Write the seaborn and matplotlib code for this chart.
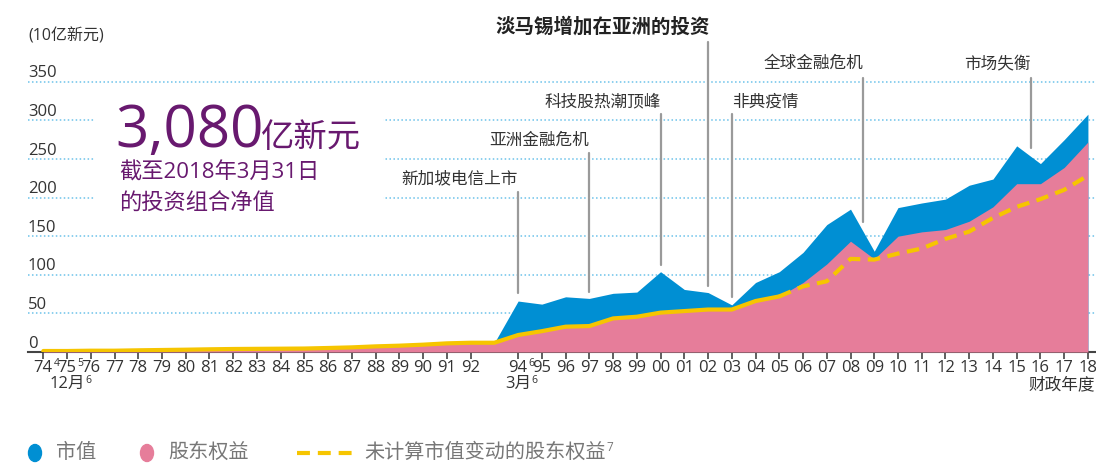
import numpy as np
import pandas as pd
import matplotlib
matplotlib.use('Agg')
import matplotlib.pyplot as plt
import seaborn as sns
from matplotlib.patches import Ellipse, Rectangle
from matplotlib.lines import Line2D
from matplotlib.transforms import blended_transform_factory

# fiscal years (93 has a point but no label)
year_labels = ['74', '75', '76', '77', '78', '79', '80', '81', '82', '83',
               '84', '85', '86', '87', '88', '89', '90', '91', '92', '',
               '94', '95', '96', '97', '98', '99', '00', '01', '02', '03',
               '04', '05', '06', '07', '08', '09', '10', '11', '12', '13',
               '14', '15', '16', '17', '18']
# footnote marks on some years, and the second line under 75 and 94
year_notes = {0: '4', 1: '5', 20: '6'}
year_second_line = {1: '12月', 20: '3月'}
second_line_note = '6'

# S$ billion
market_value = [1.3, 1.3, 1.7, 1.7, 2.2, 2.6, 3.0, 3.5, 3.9, 4.1,
                4.3, 4.5, 6.5, 7.0, 8.6, 10.0, 9.5, 11.2, 12.0, 12.0,
                66, 62, 71.5, 69.4, 76, 77.6, 104, 81, 77, 61,
                90, 104, 129, 165, 185, 130.5, 187, 193, 198, 216,
                224, 267, 244, 275, 308]
equity = [1.3, 1.3, 1.7, 1.7, 2.2, 2.6, 3.0, 3.5, 3.9, 4.1,
          4.3, 4.5, 5.2, 6.0, 7.3, 8.2, 9.5, 11.2, 12.0, 12.0,
          22, 27, 32.8, 33.6, 43.5, 45.7, 51, 53, 55, 55,
          66, 72, 90, 114, 143.5, 120.6, 150, 155.6, 158.6, 169.4,
          188, 218, 218, 239, 272]
equity_excl = [1.3, 1.3, 1.7, 1.7, 2.2, 2.6, 3.0, 3.5, 3.9, 4.1,
               4.3, 4.5, 5.2, 6.0, 7.3, 8.2, 9.5, 11.2, 12.0, 12.0,
               22, 27, 32.8, 33.6, 43.5, 45.7, 51, 53, 55, 55,
               66, 72, 85, 91.6, 120.6, 119.7, 127.5, 134, 146.5, 156,
               173.7, 188, 198, 210, 228.6]

y_ticks = [0, 50, 100, 150, 200, 250, 300, 350]

# label, x position (year index), line top, line bottom, label y, alignment
events = [
    ('新加坡电信上市', 20, 207.6, 76, 224, 'right'),
    ('亚洲金融危机', 23, 257.8, 78, 273.7, 'right'),
    ('科技股热潮顶峰', 26, 308.3, 112.7, 323.4, 'right'),
    ('非典疫情', 29, 308.3, 71.6, 323.4, 'left'),
    ('全球金融危机', 34.53, 355.3, 168.8, 373, 'right'),
    ('市场失衡', 41.6, 355.3, 263.9, 373, 'right'),
]
main_event = ('淡马锡增加在亚洲的投资', 28, 402, 85.5, 420.6, 'right')

BLUE = '#008fd3'
PINK = '#e67d9a'
YELLOW = '#f6c500'
PURPLE = '#68196f'
GRID = '#6cc2ea'

df = pd.DataFrame({'pos': np.arange(len(year_labels)), 'label': year_labels,
                   'market': market_value, 'equity': equity, 'excl': equity_excl})

sns.set_theme(style='white')
plt.rcParams['font.family'] = ['Open Sans', 'Noto Sans CJK SC', 'DejaVu Sans']

W, H = 1096, 471


def fx(px):
    return px / W


def fy(py):
    return 1 - py / H


fig = plt.figure(figsize=(W / 100, H / 100), dpi=100)
ax = fig.add_axes([fx(28), fy(352), 1 - fx(28), (352 - 20) / H])

ax.fill_between(df['pos'], 0, df['market'], color=BLUE, lw=0, zorder=2)
ax.fill_between(df['pos'], 0, df['equity'], color=PINK, lw=0, zorder=3)
sns.lineplot(data=df.iloc[:32], x='pos', y='excl', color=YELLOW, lw=3,
             ax=ax, zorder=4)
sns.lineplot(data=df.iloc[31:], x='pos', y='excl', color=YELLOW, lw=3,
             linestyle=(0, (3, 1.8)), ax=ax, zorder=4)

ax.set_xlim(-0.644, 44.34)
ax.set_ylim(0, 430)
ax.set_xlabel('')
ax.set_ylabel('')

# grid + labels sitting above the lines
ax.set_yticks(y_ticks[1:])
ax.set_axisbelow(True)
ax.grid(axis='y', color=GRID, linestyle=(0, (1, 1.6)), linewidth=1.1)
ax.grid(axis='x', visible=False)
ax.tick_params(axis='y', length=0, labelleft=False)
for v in y_ticks:
    ax.text(0, v + 5.7, str(v), transform=ax.get_yaxis_transform(),
            ha='left', va='baseline', fontsize=12, color='#333333')

tick_df = df[df['label'] != '']
ax.set_xticks(tick_df['pos'])
ax.set_xticklabels(tick_df['label'], fontsize=12, color='#333333')
ax.tick_params(axis='x', length=5, width=1.2, color='#444444', pad=1,
               bottom=True)

for s in ['top', 'right', 'left']:
    ax.spines[s].set_visible(False)
ax.spines['bottom'].set_color('#444444')
ax.spines['bottom'].set_linewidth(1.5)

for label, x, top, bot, ty, ha in events:
    ax.plot([x, x], [bot, top], color='#9a9a9a', lw=1.6, zorder=5,
            clip_on=False)
    ax.text(x, ty, label, ha=ha, va='center', fontsize=12, color='#333333',
            clip_on=False)
label, x, top, bot, ty, ha = main_event
ax.plot([x, x], [bot, top], color='#9a9a9a', lw=1.6, zorder=5, clip_on=False)
ax.text(x + 0.08, ty, label, ha=ha, va='center', fontsize=14,
        fontweight='bold', color='#222222', clip_on=False)

# second line under some years
xdata_yfig = blended_transform_factory(ax.transData, fig.transFigure)
second_texts = {}
for pos, txt in year_second_line.items():
    second_texts[pos] = ax.text(pos, fy(384), txt, fontsize=12,
                                color='#333333', ha='center', va='center',
                                transform=xdata_yfig, clip_on=False)

# white box behind the headline figure
ax.add_patch(Rectangle((fx(95), fy(225)), fx(287), 122 / H,
                       transform=fig.transFigure, color='white', zorder=1))
fig.text(fx(115), fy(147), '3,080', fontsize=42, color=PURPLE,
         va='baseline', ha='left')
fig.text(fx(261), fy(147), '亿新元', fontsize=24, color=PURPLE,
         va='baseline', ha='left')
fig.text(fx(119), fy(172.5), '截至2018年3月31日', fontsize=16, color=PURPLE,
         va='center', ha='left', fontweight='medium')
fig.text(fx(119), fy(204), '的投资组合净值', fontsize=16, color=PURPLE,
         va='center', ha='left', fontweight='medium')

fig.text(fx(28), fy(36), '(10亿新元)', fontsize=11.5, color='#333333',
         va='center', ha='left')
fig.text(fx(1095), fy(385), '财政年度', fontsize=12, color='#333333',
         va='center', ha='right')

# legend
leg_y = 453
fig.add_artist(Ellipse((fx(35), fy(leg_y)), 13 / W, 17 / H,
                       transform=fig.transFigure, color=BLUE))
fig.text(fx(56), fy(leg_y), '市值', fontsize=14.5, color='#777777',
         va='center', ha='left')
fig.add_artist(Ellipse((fx(147), fy(leg_y)), 13 / W, 17 / H,
                       transform=fig.transFigure, color=PINK))
fig.text(fx(168), fy(leg_y), '股东权益', fontsize=14.5, color='#777777',
         va='center', ha='left')
fig.add_artist(Line2D([fx(297), fx(352)], [fy(leg_y), fy(leg_y)],
                      transform=fig.transFigure, color=YELLOW, lw=3,
                      linestyle=(0, (3.1, 1.9))))
leg_txt = fig.text(fx(364), fy(leg_y), '未计算市值变动的股东权益', fontsize=14.5,
                   color='#777777', va='center', ha='left')

# small footnote marks next to texts, measured after layout
fig.canvas.draw()
renderer = fig.canvas.get_renderer()


def add_note(artist, note, size=7.5, rise=2):
    bb = artist.get_window_extent(renderer)
    fig.text((bb.x1 + 0.5) / W, (bb.y1 + rise) / H, note, fontsize=size,
             color=artist.get_color(), ha='left', va='top')


tick_map = dict(zip(tick_df['pos'], ax.get_xticklabels()))
for pos, note in year_notes.items():
    add_note(tick_map[pos], note, rise=2)
for pos, t in second_texts.items():
    add_note(t, second_line_note, rise=1)
add_note(leg_txt, '7', size=8.5, rise=2)

fig.savefig('out.png', dpi=100)
